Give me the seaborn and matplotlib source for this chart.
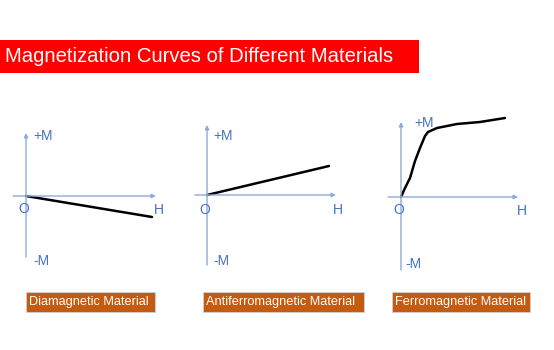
import matplotlib
matplotlib.use("Agg")
import matplotlib.pyplot as plt
from matplotlib.patches import Rectangle
import pandas as pd
import seaborn as sns

# ---------------- data ----------------
title = "Magnetization Curves of Different Materials"
materials = ["Diamagnetic Material", "Antiferromagnetic Material", "Ferromagnetic Material"]

dia_H = [0.0, 12.6]
dia_M = [0.0, -2.1]

anti_H = [0.0, 12.2]
anti_M = [0.0, 2.9]

ferro_H = [0.0, 0.4, 0.9, 1.4, 1.9, 2.4, 2.7, 3.6, 5.6, 7.9, 10.4]
ferro_M = [0.0, 0.9, 1.9, 3.6, 4.9, 6.1, 6.5, 6.9, 7.3, 7.5, 7.9]

axis_labels = ["+M", "-M", "O", "H"]

# ---------------- style ----------------
sns.set_style("white")
plt.rcParams["font.family"] = ["Liberation Sans", "DejaVu Sans"]

W, Hpx = 554, 350
fig = plt.figure(figsize=(W / 100, Hpx / 100), dpi=100)

AX_COLOR = "#8eaadb"
LBL_COLOR = "#4472c4"
PX = 10.0  # pixels per data unit


def make_panel(ox, oy, left, right, top, bottom):
    ax = fig.add_axes([left / W, 1 - bottom / Hpx, (right - left) / W, (bottom - top) / Hpx])
    ax.set_xlim((left - ox) / PX, (right - ox) / PX)
    ax.set_ylim((oy - bottom) / PX, (oy - top) / PX)
    ax.axis("off")
    return ax


def draw_axes(ax, ox, oy, x0, x1, ytop, ybot, labels):
    ax.annotate("", xy=((x1 - ox) / PX, 0), xytext=((x0 - ox) / PX, 0),
                arrowprops=dict(arrowstyle="-|>", color=AX_COLOR, lw=1.0,
                                mutation_scale=6, shrinkA=0, shrinkB=0))
    ax.annotate("", xy=(0, (oy - ytop) / PX), xytext=(0, (oy - ybot) / PX),
                arrowprops=dict(arrowstyle="-|>", color=AX_COLOR, lw=1.0,
                                mutation_scale=6, shrinkA=0, shrinkB=0))
    for txt, (px, py, ha) in zip(axis_labels, labels):
        ax.text((px - ox) / PX, (oy - py) / PX, txt, color=LBL_COLOR,
                fontsize=10, ha=ha, va="center")


panels = [
    dict(o=(26, 196), reg=(0, 180, 110, 285), ext=(13, 156, 133, 257),
         lab=[(33, 136, "left"), (33, 261, "left"), (24, 209, "center"), (154, 210, "left")],
         H=dia_H, M=dia_M),
    dict(o=(207, 195), reg=(180, 365, 110, 285), ext=(195, 336, 125, 265),
         lab=[(213, 136, "left"), (213, 261, "left"), (205, 210, "center"), (333, 210, "left")],
         H=anti_H, M=anti_M),
    dict(o=(401, 197), reg=(365, 554, 100, 285), ext=(388, 518, 122, 270),
         lab=[(414, 123, "left"), (405, 264, "left"), (399, 210, "center"), (517, 211, "left")],
         H=ferro_H, M=ferro_M),
]

for p in panels:
    ox, oy = p["o"]
    ax = make_panel(ox, oy, *p["reg"])
    draw_axes(ax, ox, oy, *p["ext"], p["lab"])
    df = pd.DataFrame({"H": p["H"], "M": p["M"]})
    sns.lineplot(data=df, x="H", y="M", ax=ax, color="black", linewidth=1.8,
                 sort=False, estimator=None)
    ax.axis("off")

# ---------------- overlay: title and material boxes ----------------
ov = fig.add_axes([0, 0, 1, 1], zorder=-1)
ov.set_xlim(0, W)
ov.set_ylim(Hpx, 0)
ov.axis("off")

ov.add_patch(Rectangle((0, 40), 419, 33, color="#ff0000", lw=0))
ov.text(5, 57, title, color="white", fontsize=14.6, ha="left", va="center")

boxes = [(26, 129), (203, 161), (392, 138)]
for name, (bx, bw) in zip(materials, boxes):
    ov.add_patch(Rectangle((bx, 292), bw, 20, facecolor="#c55a11", edgecolor="#d0d0d0", lw=0.6))
    ov.text(bx + 3, 302.5, name, color="white", fontsize=9.2, ha="left", va="center")

fig.savefig("out.png", dpi=100)
